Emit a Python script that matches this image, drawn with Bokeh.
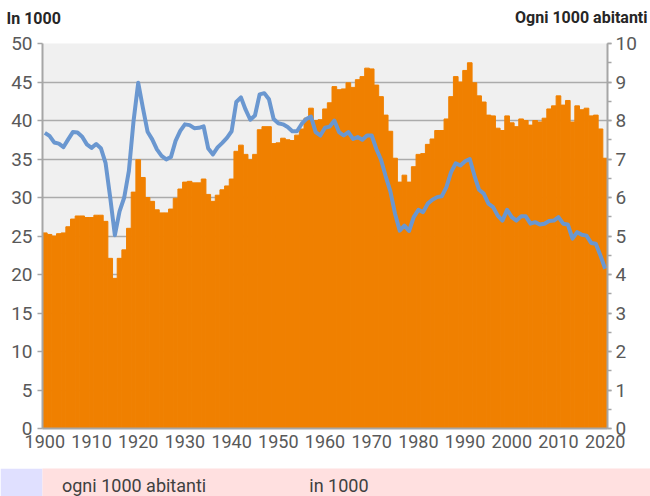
from bokeh.plotting import figure
from bokeh.layouts import column
from bokeh.models import (Range1d, LinearAxis, FixedTicker, Legend, LegendItem, Label,
                          ColumnDataSource, CDSView, IndexFilter)
from bokeh.embed import file_html
from bokeh.resources import INLINE

years = list(range(1900, 2021))
marriages_thousands = [
    25.4, 25.2, 25.0, 25.3, 25.4, 26.2, 27.2, 27.6, 27.6, 27.4,
    27.4, 27.7, 27.7, 26.9, 22.1, 19.5, 22.1, 23.2, 26.0, 30.7,
    34.9, 32.6, 30.0, 29.5, 28.4, 28.0, 28.0, 28.5, 29.9, 31.1,
    32.0, 32.1, 31.9, 31.9, 32.4, 30.4, 29.5, 30.3, 31.0, 31.5,
    32.4, 36.0, 36.8, 35.6, 34.9, 35.6, 38.8, 39.2, 39.2, 37.0,
    37.1, 37.7, 37.5, 37.4, 38.1, 38.9, 40.3, 41.6, 40.0, 40.1,
    41.5, 42.3, 44.4, 44.0, 44.1, 44.9, 44.3, 45.3, 45.7, 46.8,
    46.7, 44.6, 43.1, 40.7, 38.6, 35.1, 32.0, 32.9, 32.0, 34.0,
    35.6, 35.7, 36.9, 37.6, 38.7, 38.7, 40.2, 43.1, 45.7, 45.0,
    46.5, 47.5, 44.9, 43.2, 42.4, 40.7, 40.6, 39.0, 38.7, 40.6,
    39.7, 39.2, 40.2, 40.0, 39.4, 40.0, 39.8, 40.3, 41.5, 41.9,
    43.2, 42.0, 42.6, 39.8, 41.9, 41.4, 41.6, 40.6, 40.7, 38.9,
    35.1,
]
rate_per_1000 = [
    7.68, 7.60, 7.43, 7.40, 7.31, 7.51, 7.70, 7.69, 7.58, 7.38,
    7.29, 7.39, 7.28, 6.90, 6.00, 5.02, 5.64, 6.00, 6.69, 7.99,
    8.98, 8.33, 7.71, 7.51, 7.25, 7.08, 6.99, 7.05, 7.47, 7.73,
    7.90, 7.88, 7.80, 7.81, 7.85, 7.27, 7.12, 7.30, 7.42, 7.55,
    7.72, 8.48, 8.60, 8.28, 8.02, 8.13, 8.68, 8.71, 8.55, 8.04,
    7.93, 7.90, 7.83, 7.72, 7.72, 7.91, 8.04, 8.10, 7.70, 7.61,
    7.81, 7.84, 8.00, 7.70, 7.61, 7.70, 7.52, 7.57, 7.50, 7.61,
    7.61, 7.26, 6.98, 6.55, 6.16, 5.58, 5.14, 5.27, 5.13, 5.49,
    5.68, 5.62, 5.84, 5.94, 6.01, 6.03, 6.27, 6.66, 6.89, 6.83,
    6.94, 7.00, 6.57, 6.20, 6.10, 5.84, 5.75, 5.53, 5.40, 5.68,
    5.49, 5.40, 5.51, 5.51, 5.32, 5.36, 5.30, 5.32, 5.39, 5.40,
    5.49, 5.32, 5.30, 4.93, 5.10, 5.03, 5.01, 4.82, 4.80, 4.49,
    4.15,
]
x_ticks = list(range(1900, 2021, 10))
left_ticks = list(range(0, 51, 5))
right_ticks = list(range(0, 11))

assert len(years) == len(marriages_thousands) == len(rate_per_1000)

src = ColumnDataSource(dict(year=years, n=marriages_thousands, r=rate_per_1000))

FONT = "Roboto"
GRAY_TXT = "#595959"
AXIS_COL = "#a6a6a6"
BAR_COL = "#f08000"
LINE_COL = "#6a97d0"

p = figure(width=650, frame_width=565, frame_height=385, output_backend="svg",
           toolbar_location=None,
           x_range=Range1d(1899.5, 2020.5), y_range=Range1d(0, 50),
           min_border_left=42, min_border_right=43, min_border_top=43, min_border_bottom=40)
p.outline_line_color = None
p.background_fill_color = "#f0f0f0"
p.border_fill_color = "white"
p.extra_y_ranges = {"rate": Range1d(0, 10)}

bars = p.vbar(x="year", top="n", width=1.0, source=src, fill_color=BAR_COL,
              line_color=BAR_COL, line_width=1)
line = p.line(x="year", y="r", source=src, y_range_name="rate",
              line_color=LINE_COL, line_width=4, line_join="round")

xa = p.xaxis[0]
xa.ticker = FixedTicker(ticks=x_ticks)
xa.axis_line_color = AXIS_COL
xa.axis_line_width = 2
xa.major_tick_line_color = None
xa.minor_tick_line_color = None
xa.major_label_text_font = FONT
xa.major_label_text_font_size = "18px"
xa.major_label_text_color = GRAY_TXT
xa.major_label_standoff = 0

ya = p.yaxis[0]
ya.ticker = FixedTicker(ticks=left_ticks)
ya.axis_line_color = AXIS_COL
ya.axis_line_width = 2
ya.major_tick_line_color = AXIS_COL
ya.major_tick_line_width = 1.5
ya.major_tick_in = 0
ya.major_tick_out = 5
ya.minor_tick_line_color = None
ya.major_label_text_font = FONT
ya.major_label_text_font_size = "19px"
ya.major_label_text_color = GRAY_TXT
ya.major_label_standoff = 5

ra = LinearAxis(y_range_name="rate",
                ticker=FixedTicker(ticks=right_ticks, minor_ticks=[i / 2 for i in range(21)]))
ra.axis_line_color = AXIS_COL
ra.axis_line_width = 2
ra.major_tick_line_color = AXIS_COL
ra.major_tick_line_width = 1.5
ra.major_tick_in = 0
ra.major_tick_out = 4
ra.minor_tick_line_color = AXIS_COL
ra.minor_tick_line_width = 1.5
ra.minor_tick_in = 0
ra.minor_tick_out = 4
ra.major_label_text_font = FONT
ra.major_label_text_font_size = "19px"
ra.major_label_text_color = GRAY_TXT
ra.major_label_standoff = 4
p.add_layout(ra, "right")

p.xgrid.grid_line_color = None
p.ygrid.grid_line_color = "#ababab"
p.ygrid.grid_line_width = 1.5
p.ygrid.ticker = FixedTicker(ticks=left_ticks)

lt = Label(x=-36, y=25, x_units="screen", y_units="screen", text="In 1000",
           text_font=FONT, text_font_style="bold", text_font_size="16px",
           text_color="#262626", text_align="left", text_baseline="alphabetic")
rt = Label(x=605, y=7, x_units="screen", y_units="screen", text="Ogni 1000 abitanti",
           text_font=FONT, text_font_style="bold", text_font_size="16px",
           text_color="#262626", text_align="right", text_baseline="alphabetic")
p.add_layout(lt, "above")
p.add_layout(rt, "above")

# legend strip below the chart: its renderers use the same data, filtered to nothing
leg = figure(width=650, height=28, frame_width=650, frame_height=28,
             output_backend="svg", toolbar_location=None,
             x_range=Range1d(0, 1), y_range=Range1d(0, 1),
             x_axis_location=None, y_axis_location=None,
             min_border_left=0, min_border_right=0, min_border_top=0, min_border_bottom=0)
leg.outline_line_color = None
leg.grid.visible = False
leg.background_fill_color = "#ffe0e0"
leg.border_fill_color = "#e0e0ff"
hidden = CDSView(filter=IndexFilter([]))
leg_line = leg.line(x="year", y="r", source=src, view=hidden,
                    line_color=LINE_COL, line_width=4)
leg_bar = leg.vbar(x="year", top="n", width=1.0, source=src, view=hidden,
                   fill_color=BAR_COL, line_color=BAR_COL, line_width=1)

legend = Legend(items=[LegendItem(label="ogni 1000 abitanti", renderers=[leg_line]),
                       LegendItem(label="in 1000", renderers=[leg_bar])],
                orientation="horizontal", location=(3, 0),
                glyph_width=47, glyph_height=17, label_standoff=12, spacing=44,
                padding=0, margin=0, border_line_color=None,
                background_fill_alpha=0,
                label_text_font=FONT, label_text_font_size="18px",
                label_text_color="#404040")
leg.add_layout(legend, "center")

layout = column(p, leg, spacing=0)

open("out.html", "w").write(file_html(layout, INLINE))
